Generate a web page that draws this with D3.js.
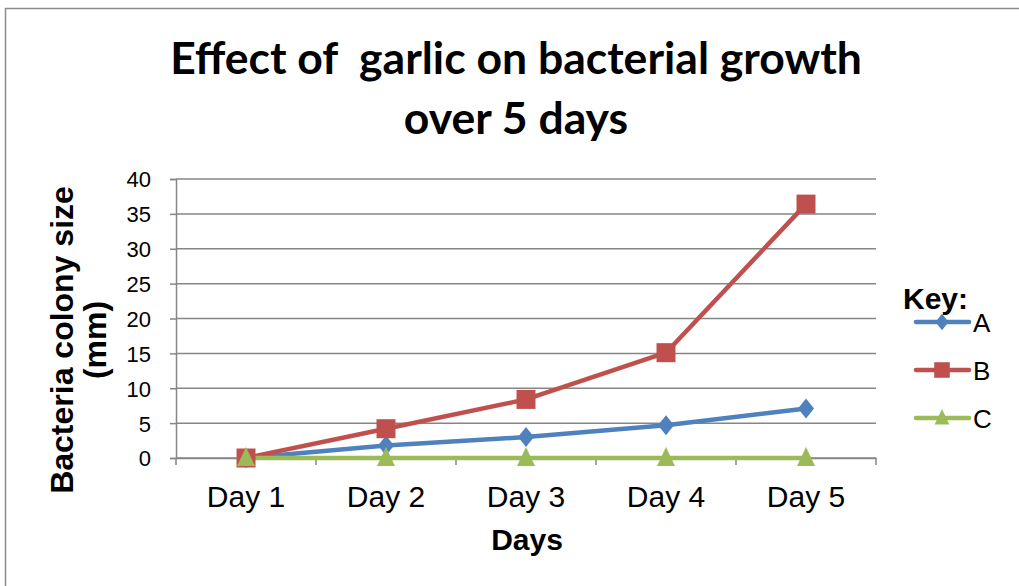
<!DOCTYPE html>
<html><head><meta charset="utf-8">
<script src="https://cdn.jsdelivr.net/npm/d3@7"></script>
<style>body{margin:0;background:#fff}svg{display:block}text{font-family:"Liberation Sans",Arial,sans-serif}</style>
</head><body>
<svg id="c" width="1019" height="586"></svg>
<script>
const categories = ["Day 1","Day 2","Day 3","Day 4","Day 5"];
const seriesNames = ["A","B","C"];
const valuesA = [0, 1.8, 3.0, 4.7, 7.1];
const valuesB = [0, 4.2, 8.4, 15.1, 36.4];
const valuesC = [0, 0, 0, 0, 0];
const yTicks = [0,5,10,15,20,25,30,35,40];
const colors = ["#4F81BD","#C0504D","#9BBB59"];

function marker(kind, s){
  if(kind===0) return `M0,${-10*s}L${8*s},0L0,${10*s}L${-8*s},0Z`;
  if(kind===1) return `M${-9.5*s},${-9.5*s}h${19*s}v${19*s}h${-19*s}Z`;
  return `M0,${-11*s}L${9*s},${8*s}L${-9*s},${8*s}Z`;
}

const svg = d3.select("#c");
svg.append("rect").attr("x",5.5).attr("y",8.5).attr("width",1030).attr("height",600)
  .attr("fill","#fff").attr("stroke","#8c8c8c").attr("stroke-width",1.5);

const x = d3.scaleBand().domain(categories).range([176,876]);
const y = d3.scaleLinear().domain([0,40]).range([458,179]);
const cfont = "Lato, 'Open Sans', sans-serif";

svg.append("g").selectAll("line").data(yTicks).join("line")
  .attr("x1",176).attr("x2",876).attr("y1",d=>y(d)).attr("y2",d=>y(d))
  .attr("stroke","#868686").attr("stroke-width",1.5);

const ya = svg.append("g").attr("transform","translate(176,0)")
  .call(d3.axisLeft(y).tickValues(yTicks).tickSize(6).tickPadding(19));
ya.select(".domain").attr("stroke","#868686").attr("stroke-width",1.5);
ya.selectAll(".tick line").attr("stroke","#868686").attr("stroke-width",1.5);
ya.selectAll("text").attr("font-size",22).attr("fill","#000").attr("dy","0.36em")
  .attr("font-family",cfont);

const xa = svg.append("g").attr("transform","translate(0,458)")
  .call(d3.axisBottom(x).tickSize(0).tickPadding(0));
xa.select(".domain").attr("stroke","#868686").attr("stroke-width",1.5);
xa.selectAll("text").attr("font-size",30).attr("fill","#000").attr("dy",0).attr("y",49)
  .attr("font-family","'Liberation Sans', Arial, sans-serif");
svg.append("g").selectAll("line").data(d3.range(categories.length+1)).join("line")
  .attr("x1",i=>176+i*x.step()).attr("x2",i=>176+i*x.step())
  .attr("y1",458).attr("y2",465).attr("stroke","#868686").attr("stroke-width",1.5);

const series = [valuesA, valuesB, valuesC];
const line = d3.line().x((d,i)=>x(categories[i])+x.bandwidth()/2).y(d=>y(d));
series.forEach((vals,si)=>{
  svg.append("path").datum(vals).attr("d",line).attr("fill","none")
    .attr("stroke",colors[si]).attr("stroke-width",4.5).attr("stroke-linejoin","round");
});
series.forEach((vals,si)=>{
  svg.append("g").selectAll("path").data(vals).join("path")
    .attr("transform",(d,i)=>`translate(${x(categories[i])+x.bandwidth()/2},${y(d)})`)
    .attr("d",marker(si,1))
    .attr("fill",colors[si]);
});

function fitText(t, w){
  const n = t.node(); const cur = +t.attr("font-size");
  const len = n.getComputedTextLength();
  t.attr("font-size", cur*w/len);
}
const t1 = svg.append("text").attr("x",516).attr("y",74).attr("text-anchor","middle")
  .style("font-family",cfont).style("white-space","pre")
  .attr("font-size",36).attr("font-weight","bold").text("Effect of  garlic on bacterial growth");
fitText(t1, 692);
svg.append("text").attr("x",516).attr("y",134).attr("text-anchor","middle")
  .style("font-family",cfont)
  .attr("font-size",t1.attr("font-size")).attr("font-weight","bold").text("over 5 days");

const yl = svg.append("text").attr("transform","translate(73,340) rotate(-90)")
  .attr("text-anchor","middle").attr("font-size",32).attr("font-weight","bold");
yl.append("tspan").attr("x",0).attr("dy",0).text("Bacteria colony size");
yl.append("tspan").attr("x",0).attr("dy",33).text("(mm)");

svg.append("text").attr("x",527).attr("y",550).attr("text-anchor","middle")
  .attr("font-size",30).attr("font-weight","bold").text("Days");

svg.append("text").attr("x",903).attr("y",309).attr("font-size",30).attr("font-weight","bold").text("Key:");
seriesNames.forEach((n,i)=>{
  const ly = 322 + i*48;
  svg.append("line").attr("x1",916).attr("x2",969).attr("y1",ly).attr("y2",ly)
    .attr("stroke",colors[i]).attr("stroke-width",4.5).attr("stroke-linecap","round");
  svg.append("path").attr("transform",`translate(942,${ly})`)
    .attr("d",marker(i,0.82)).attr("fill",colors[i]);
  svg.append("text").attr("x",973).attr("y",ly+10).attr("font-size",26).text(n);
});
</script>
</body></html>
